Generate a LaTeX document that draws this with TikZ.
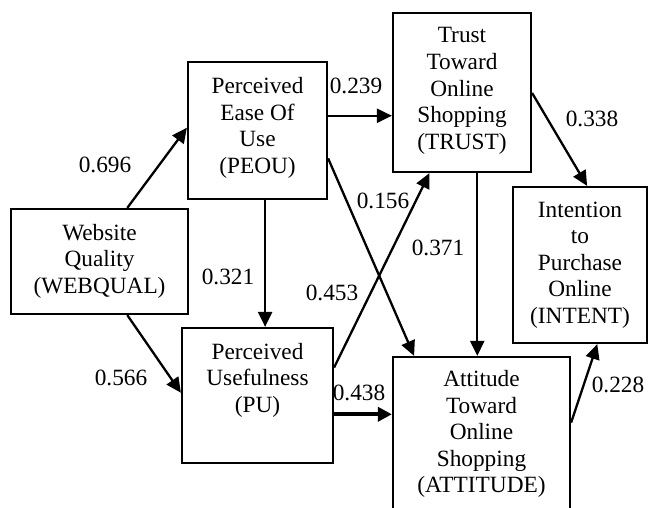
\documentclass[tikz,border=0pt]{standalone}
\usepackage{fontspec}
\setmainfont{Liberation Serif}
\usetikzlibrary{arrows.meta,calc}
\begin{document}
\begin{tikzpicture}[x=0.5pt,y=-0.5pt,
  box/.style={draw=black,line width=1.1pt,rectangle,inner sep=0pt,fill=none},
  txt/.style={align=center,inner sep=0pt,font=\fontsize{11.65}{13.3}\selectfont},
  val/.style={inner sep=0pt,font=\fontsize{11.65}{13.3}\selectfont},
  arr/.style={-{Triangle[length=7.5pt,width=7pt]},line width=1.15pt},
  thickarr/.style={-{Triangle[length=7pt,width=7pt]},line width=2pt}]
\useasboundingbox (0,0) rectangle (654,508);
\clip (0,0) rectangle (654,508);
% boxes
\node[box,minimum width=88.5pt,minimum height=52.5pt] (webqual) at (99.5,261.5) {};
\node[box,minimum width=69.5pt,minimum height=68.5pt] (peou) at (257.5,130.5) {};
\node[box,minimum width=75.5pt,minimum height=67.5pt] (pu) at (257.5,395.5) {};
\node[box,minimum width=69pt,minimum height=79.5pt] (trust) at (462,92.5) {};
\node[box,minimum width=67pt,minimum height=78pt] (intent) at (580,265) {};
\node[box,minimum width=88.5pt,minimum height=101.5pt] (attitude) at (481.5,458.5) {};
% texts
\node[txt] (twebqual) at (99.5,261) {Website\\Quality\\(WEBQUAL)};
\node[txt] (tpeou) at (257.5,128) {Perceived\\Ease Of\\Use\\(PEOU)};
\node[txt] (tpu) at (257.5,380) {Perceived\\Usefulness\\(PU)};
\node[txt] (ttrust) at (462,91) {Trust\\Toward\\Online\\Shopping\\(TRUST)};
\node[txt] (tintent) at (580,265) {Intention\\to\\Purchase\\Online\\(INTENT)};
\node[txt] (tattitude) at (481.5,434) {Attitude\\Toward\\Online\\Shopping\\(ATTITUDE)};
% connector end points
\coordinate (a1) at ($(webqual.north west)!0.655!(webqual.north east)$);
\coordinate (b1) at ($(peou.north west)!0.48!(peou.south west)$);
\coordinate (a2) at ($(webqual.south west)!0.655!(webqual.south east)$);
\coordinate (b2) at ($(pu.north west)!0.48!(pu.south west)$);
\coordinate (a3) at ($(peou.south west)!0.554!(peou.south east)$);
\coordinate (a4) at ($(peou.north east)!0.394!(peou.south east)$);
\coordinate (a5) at ($(peou.north east)!0.70!(peou.south east)$);
\coordinate (b5) at ($(attitude.north west)!0.124!(attitude.north east)$);
\coordinate (a6) at ($(pu.north east)!0.296!(pu.south east)$);
\coordinate (b6) at ($(trust.south west)!0.268!(trust.south east)$);
\coordinate (a7) at ($(trust.south west)!0.609!(trust.south east)$);
\coordinate (a8) at ($(pu.north east)!0.637!(pu.south east)$);
\coordinate (a9) at ($(trust.north east)!0.503!(trust.south east)$);
\coordinate (b9) at ($(intent.north west)!0.552!(intent.north east)$);
\coordinate (a10) at ($(attitude.north east)!0.325!(attitude.south east)$);
\coordinate (b10) at ($(intent.south west)!0.627!(intent.south east)$);
% connectors
\draw[arr] (a1) -- (b1);
\draw[arr] (a2) -- (b2);
\draw[arr] (a3) -- (a3 |- pu.north);
\draw[arr] (a4) -- (a4 -| trust.west);
\draw[arr] (a5) -- (b5);
\draw[arr] (a6) -- (b6);
\draw[arr] (a7) -- (a7 |- attitude.north);
\draw[thickarr] (a8) -- (a8 -| attitude.west);
\draw[arr] (a9) -- (b9);
\draw[arr] (a10) -- (b10);
% values
\node[val] (v1) at (105,165) {0.696};
\node[val] (v2) at (121,378) {0.566};
\node[val] (v3) at (228,277) {0.321};
\node[val] (v4) at (356,86) {0.239};
\node[val] (v5) at (383,201) {0.156};
\node[val] (v6) at (332,293) {0.453};
\node[val] (v7) at (438,248) {0.371};
\node[val] (v8) at (359,393) {0.438};
\node[val] (v9) at (592,119) {0.338};
\node[val] (v10) at (618,385) {0.228};
\end{tikzpicture}
\end{document}
